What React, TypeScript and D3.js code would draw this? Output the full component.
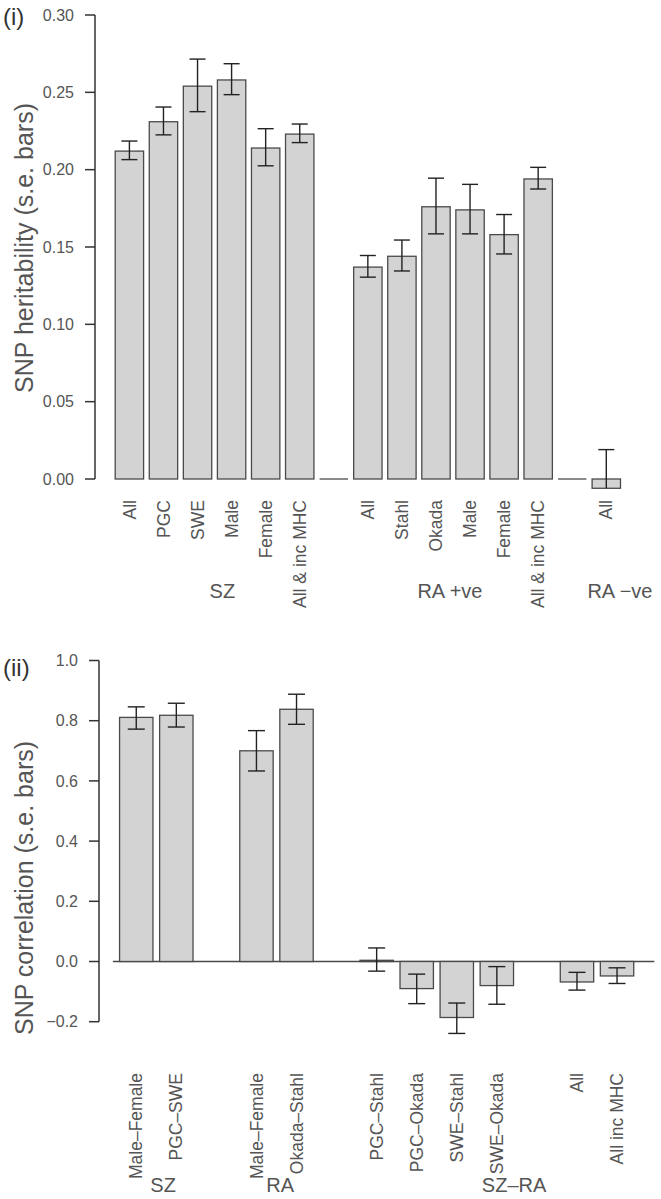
import React from "react";
import * as d3 from "d3";

// ---- Panel (i): SNP heritability ----
const herLabels = ["All", "PGC", "SWE", "Male", "Female", "All & inc MHC", "", "All", "Stahl", "Okada", "Male", "Female", "All & inc MHC", "", "All"];
const herValues = [0.212, 0.231, 0.254, 0.258, 0.214, 0.223, 0, 0.137, 0.144, 0.176, 0.174, 0.158, 0.194, 0, -0.006];
const herLo: (number | null)[] = [0.2065, 0.2225, 0.2375, 0.2485, 0.2025, 0.2175, null, 0.1305, 0.1345, 0.1585, 0.1585, 0.1455, 0.1875, null, null];
const herHi: (number | null)[] = [0.2185, 0.2405, 0.2715, 0.2685, 0.2265, 0.2295, null, 0.1445, 0.1545, 0.1945, 0.1905, 0.171, 0.2015, null, 0.019];
const herTicks = [0, 0.05, 0.1, 0.15, 0.2, 0.25, 0.3];
const herGroups = ["SZ", "RA +ve", "RA \u2212ve"];
const herGroupPos = [2.73, 9.41, 14.4];

// ---- Panel (ii): SNP correlation ----
const corLabels = ["Male\u2013Female", "PGC\u2013SWE", "", "Male\u2013Female", "Okada\u2013Stahl", "", "PGC\u2013Stahl", "PGC\u2013Okada", "SWE\u2013Stahl", "SWE\u2013Okada", "", "All", "All inc MHC"];
const corValues: (number | null)[] = [0.811, 0.818, null, 0.700, 0.838, null, 0.004, -0.090, -0.186, -0.080, null, -0.068, -0.048];
const corLo: (number | null)[] = [0.772, 0.779, null, 0.633, 0.788, null, -0.032, -0.140, -0.239, -0.142, null, -0.095, -0.073];
const corHi: (number | null)[] = [0.846, 0.858, null, 0.767, 0.888, null, 0.045, -0.042, -0.138, -0.017, null, -0.036, -0.021];
const corTicks = [-0.2, 0, 0.2, 0.4, 0.6, 0.8, 1.0];
const corGroups = ["SZ", "RA", "SZ\u2013RA"];
const corGroupPos = [0.67, 3.59, 9.43];

const FONT = "'Liberation Sans', Arial, Helvetica, sans-serif";
const FILL = "#d3d3d3";
const BAR_STROKE = "#4a4a4a";
const TEXT = "#555";
const AXIS = "#333";

type PanelProps = {
  labels: string[];
  values: (number | null)[];
  lo: (number | null)[];
  hi: (number | null)[];
  ticks: number[];
  fmt: (v: number) => string;
  yDomain: [number, number];
  yRange: [number, number];
  xDomain: [number, number];
  xRange: [number, number];
  axisX: number;
  labelTop: number;
  groups: string[];
  groupPos: number[];
  groupY: number;
  yTitle: string;
  yTitleCenter: number;
  panelTag: string;
  panelTagY: number;
  zeroLine: boolean;
  capHalf: number;
};

function Panel(p: PanelProps) {
  const x = d3.scaleLinear().domain(p.xDomain).range(p.xRange);
  const y = d3.scaleLinear().domain(p.yDomain).range(p.yRange);
  const left = (i: number) => x(0.2 + i * 1.2);
  const right = (i: number) => x(1.2 + i * 1.2);
  const center = (i: number) => (left(i) + right(i)) / 2;
  const posX = (f: number) => x(0.7 + f * 1.2);
  const y0 = y(0);
  return (
    <g>
      <text x={3} y={p.panelTagY} fontSize={24} fill="#333" fontFamily={FONT}>{p.panelTag}</text>
      <line x1={p.axisX} x2={p.axisX} y1={y(p.ticks[0])} y2={y(p.ticks[p.ticks.length - 1])} stroke={AXIS} strokeWidth={1.5} />
      {p.ticks.map((t, i) => (
        <g key={i}>
          <line x1={p.axisX - 10} x2={p.axisX} y1={y(t)} y2={y(t)} stroke={AXIS} strokeWidth={1.5} />
          <text x={p.axisX - 21} y={y(t)} dy="0.35em" textAnchor="end" fontSize={16} fill={TEXT} fontFamily={FONT}>{p.fmt(t)}</text>
        </g>
      ))}
      <text transform={`translate(33,${p.yTitleCenter}) rotate(-90)`} textAnchor="middle" fontSize={25} fill={TEXT} fontFamily={FONT}>{p.yTitle}</text>
      {p.zeroLine && (
        <line x1={x(0)} x2={p.xRange[1]} y1={y0} y2={y0} stroke={BAR_STROKE} strokeWidth={1.3} />
      )}
      {p.values.map((v, i) => {
        if (v === null) return null;
        const top = Math.min(y(v), y0);
        const h = Math.abs(y(v) - y0);
        if (h < 0.5) {
          return <line key={i} x1={left(i)} x2={right(i)} y1={y0} y2={y0} stroke={BAR_STROKE} strokeWidth={1.3} />;
        }
        return <rect key={i} x={left(i)} y={top} width={right(i) - left(i)} height={h} fill={FILL} stroke={BAR_STROKE} strokeWidth={1.3} />;
      })}
      {p.values.map((v, i) => {
        if (v === null) return null;
        const l = p.lo[i];
        const hh = p.hi[i];
        if (l === null && hh === null) return null;
        const cx = center(i);
        const yl = l === null ? y(v) : y(l);
        const yh = hh === null ? y(v) : y(hh);
        return (
          <g key={i} stroke="#222" strokeWidth={1.4}>
            <line x1={cx} x2={cx} y1={yl} y2={yh} />
            {hh !== null && <line x1={cx - p.capHalf} x2={cx + p.capHalf} y1={yh} y2={yh} />}
            {l !== null && <line x1={cx - p.capHalf} x2={cx + p.capHalf} y1={yl} y2={yl} />}
          </g>
        );
      })}
      {p.labels.map((lab, i) => (
        lab ? (
          <text key={i} transform={`translate(${center(i)},${p.labelTop}) rotate(-90)`} dy="0.35em" textAnchor="end" fontSize={17.5} fill={TEXT} fontFamily={FONT}>{lab}</text>
        ) : null
      ))}
      {p.groups.map((g, i) => (
        <text key={i} x={posX(p.groupPos[i])} y={p.groupY} textAnchor="middle" fontSize={20} fill={TEXT} fontFamily={FONT}>{g}</text>
      ))}
    </g>
  );
}

export default function App() {
  return (
    <svg width={661} height={1199} style={{ position: "absolute", left: 0, top: 0, display: "block" }}>
      <rect x={0} y={0} width={661} height={1199} fill="#fff" />
      <Panel
        labels={herLabels}
        values={herValues}
        lo={herLo}
        hi={herHi}
        ticks={herTicks}
        fmt={(v) => v.toFixed(2)}
        yDomain={[0, 0.3]}
        yRange={[479, 15]}
        xDomain={[-0.512, 18.712]}
        xRange={[95, 640.7]}
        axisX={95}
        labelTop={500}
        groups={herGroups}
        groupPos={herGroupPos}
        groupY={598}
        yTitle="SNP heritability (s.e. bars)"
        yTitleCenter={248}
        panelTag="(i)"
        panelTagY={25}
        zeroLine={false}
        capHalf={8}
      />
      <Panel
        labels={corLabels}
        values={corValues}
        lo={corLo}
        hi={corHi}
        ticks={corTicks}
        fmt={(v) => (v < 0 ? "\u2212" + Math.abs(v).toFixed(1) : v.toFixed(1))}
        yDomain={[-0.2, 1]}
        yRange={[1021.7, 660.5]}
        xDomain={[-0.416, 16.216]}
        xRange={[99, 654.3]}
        axisX={99}
        labelTop={1073}
        groups={corGroups}
        groupPos={corGroupPos}
        groupY={1192}
        yTitle="SNP correlation (s.e. bars)"
        yTitleCenter={888}
        panelTag="(ii)"
        panelTagY={676}
        zeroLine={true}
        capHalf={8.5}
      />
    </svg>
  );
}
